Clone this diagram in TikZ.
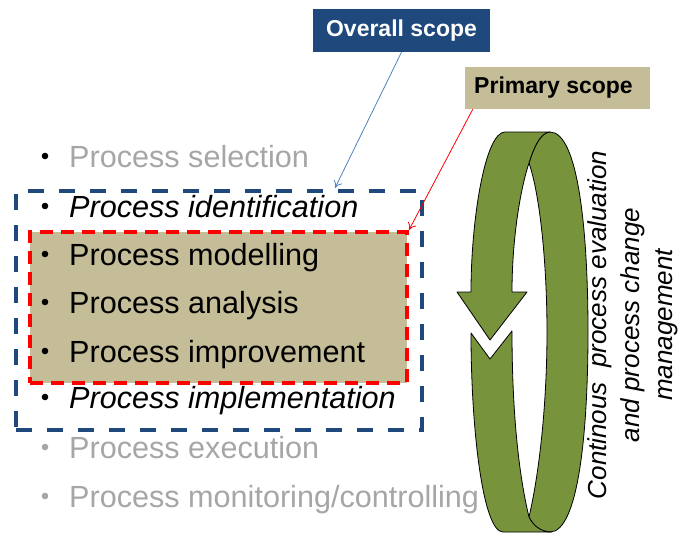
\documentclass[tikz,border=0pt]{standalone}
\usepackage{fontspec}
\setmainfont{Liberation Sans}
\usepackage{xcolor}
\usepackage{tikz}
\usetikzlibrary{arrows.meta}

\definecolor{scopeblue}{HTML}{1F497D}
\definecolor{pointerblue}{HTML}{4F81BD}
\definecolor{scopetan}{HTML}{C4BD97}
\definecolor{ringgreen}{HTML}{77933C}
\definecolor{fadegray}{HTML}{A6A6A6}

\tikzset{
  listtext/.style={anchor=base west,inner sep=0pt,font=\fontsize{30.6}{36}\selectfont},
  scopelabel/.style={inner sep=0pt,font=\bfseries\fontsize{23}{27}\selectfont},
  ringpart/.style={fill=ringgreen,draw=black,line width=0.8pt,line join=round},
  pointer/.style={line width=0.8pt,-{To[length=7pt,width=9pt]}}
}

\begin{document}
\begin{tikzpicture}[x=1pt,y=-1pt]
  \useasboundingbox (0,0) rectangle (678,536);
  % scope frames
  \node[draw=scopeblue,line width=4.5pt,dash pattern=on 16pt off 15pt,minimum width=406pt,minimum height=239pt,inner sep=0pt] (overallbox) at (219,310.5) {};
  \node[fill=scopetan,draw=red,line width=4pt,dash pattern=on 13pt off 8pt,minimum width=377pt,minimum height=151pt,inner sep=0pt] (primarybox) at (218.5,307.5) {};
  % steps of the life cycle
  \foreach \y/\ptext/\pcol/\bcol [count=\i] in {167/Process selection/fadegray/black,
      217/\textit{Process identification}/black/black,
      265/Process modelling/black/black,
      313/Process analysis/black/black,
      362/Process improvement/black/black,
      408/\textit{Process implementation}/black/black,
      458/Process execution/fadegray/fadegray,
      507/{Process monitoring/controlling}/fadegray/fadegray}
  {
    \fill[\bcol] (45,\y-11) circle [radius=3.3pt];
    \node[listtext,text=\pcol] (step\i) at (69,\y) {\ptext};
  }
  % cycle arrow
  \filldraw[ringpart] (550,132) .. controls (578,132) and (588,230) .. (588,332)
     .. controls (588,434) and (578,532) .. (550,532)
     .. controls (540,532) and (533,525) .. (529,517)
     .. controls (540,470) and (547,400) .. (547,332)
     .. controls (547,264) and (540,195) .. (529,163)
     .. controls (533,150) and (540,132) .. (550,132) -- cycle;
  \filldraw[ringpart] (529,163) .. controls (533,150) and (540,132) .. (550,132) -- (505,132)
     .. controls (485,132) and (471,220) .. (471,292) -- (457,292) -- (490,340) -- (527,292) -- (512,292)
     .. controls (512,240) and (520,190) .. (529,163) -- cycle;
  \filldraw[ringpart] (471,333) -- (490,359) -- (512,331)
     .. controls (512,420) and (520,480) .. (529,517)
     .. controls (533,525) and (540,532) .. (552,532) -- (503,532)
     .. controls (483,532) and (471,430) .. (471,333) -- cycle;
  \node[rotate=90,align=center,inner sep=0pt,font=\itshape\fontsize{26}{33}\selectfont] (cyclelabel) at (633,325)
     {Continous\ \ process evaluation\\and process change\\management};
  % scope labels
  \node[scopelabel,fill=scopeblue,text=white,minimum width=177pt,minimum height=43pt] (overall) at (401.5,30.5) {Overall scope};
  \node[scopelabel,fill=scopetan,minimum width=185pt,minimum height=42pt] (primary) at (557.5,88) {\hspace*{-8pt}Primary scope};
  \coordinate (overalltip) at (335,188);
  \draw[pointer,pointerblue] (overall.south) -- (overalltip);
  \draw[pointer,red] ([xshift=8pt]primary.south west) -- (primarybox.north east);
\end{tikzpicture}
\end{document}
